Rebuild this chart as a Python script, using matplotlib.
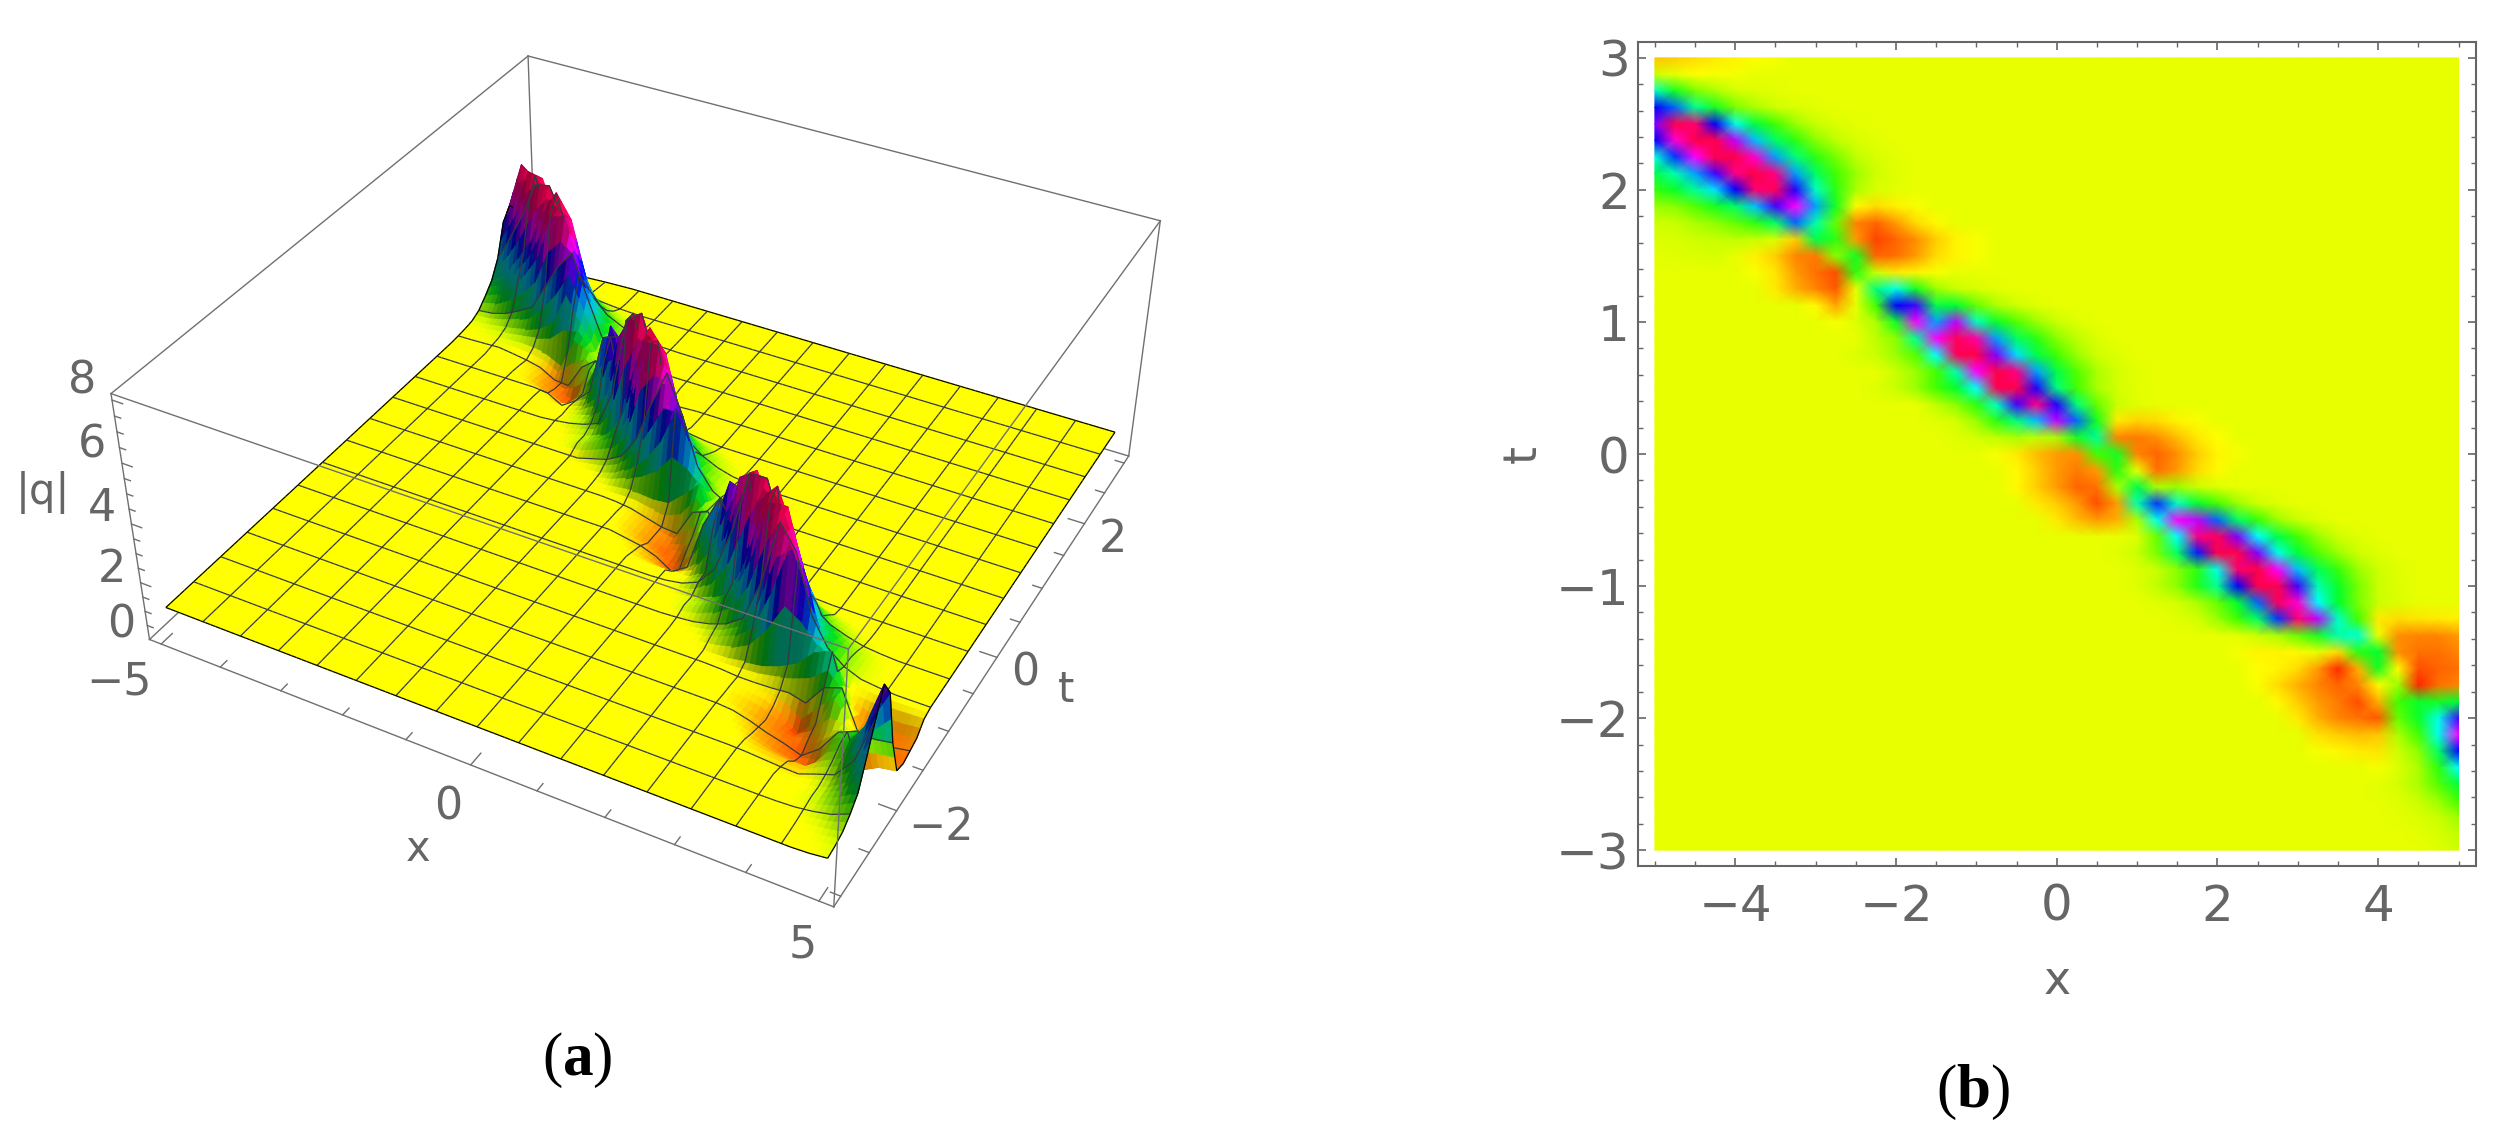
import numpy as np
import matplotlib
matplotlib.use("Agg")
import matplotlib.pyplot as plt
from matplotlib.colors import LinearSegmentedColormap, rgb_to_hsv, hsv_to_rgb, to_rgb
from matplotlib.ticker import MultipleLocator
from mpl_toolkits.mplot3d.art3d import Poly3DCollection

# ---------------- values ----------------
x_values = [-5 + 0.25 * i for i in range(41)]
t_values = [3 - 0.125 * i for i in range(49)]
background_q = 1.0
# first non-background column of every row (t = 3 ... -3), then the values read along that row
row_start = [0, 0, 0, 0, 0, 0, 0, 0, 0, 0, 0, 0,
             0, 5, 6, 8, 9, 11, 10, 12, 11, 14, 14, 15,
             17, 18, 18, 19, 20, 24, 23, 24, 24, 25, 26, 29,
             29, 30, 30, 31, 32, 33, 33, 36, 36, 36, 37, 38, 39]
row_values = [
    [.78, .8, .85, .9, .93, .96, .98],                                              # 3.000
    [1.1, 1.0, .96, .97, .98],                                                      # 2.875
    [2.4, 1.7, 1.35, 1.2, 1.08, 1.04, 1.02],                                        # 2.750
    [3.6, 3.2, 2.2, 1.7, 1.35, 1.2, 1.1, 1.05, 1.02],                               # 2.625
    [4.0, 5.6, 5.2, 3.6, 2.6, 1.85, 1.5, 1.25, 1.12, 1.05, 1.02],                   # 2.500
    [3.6, 4.6, 5.7, 5.6, 4.2, 2.9, 2.0, 1.6, 1.3, 1.15, 1.06, 1.02],                # 2.375
    [2.5, 3.4, 4.4, 5.6, 5.7, 4.6, 3.0, 2.1, 1.6, 1.35, 1.15, 1.06, 1.02],          # 2.250
    [1.9, 2.3, 3.0, 3.8, 5.0, 5.8, 5.0, 3.0, 2.0, 1.5, 1.25, 1.1, 1.03],            # 2.125
    [1.55, 1.75, 2.2, 2.8, 3.6, 5.2, 5.4, 3.7, 2.4, 1.6, 1.2, 1.06, 1.02],          # 2.000
    [1.25, 1.3, 1.45, 1.7, 2.0, 2.9, 3.8, 4.4, 3.0, 1.7, .95, .85, .92, .97],       # 1.875
    [1.1, 1.12, 1.2, 1.28, 1.4, 1.6, 2.0, 3.2, 2.3, 1.4, .5, .35, .6, .85, .95],    # 1.750
    [1.05, 1.06, 1.1, 1.12, 1.15, 1.12, 1.05, .8, 1.9, 1.6, .6, .2, .35, .55, .8, .93, .97],  # 1.625
    [1.02, 1.03, 1.05, 1.07, 1.0, .92, .8, .5, .45, 1.3, 1.7, .35, .4, .6, .85, .93, .97],    # 1.500
    [.97, .88, .6, .4, .25, 1.6, 1.1, .9, .93, .97],                                # 1.375
    [.9, .7, .5, .3, 1.0, 2.1, 2.6, 1.7, 1.25, 1.12, 1.06, 1.02],                   # 1.250
    [.95, .65, 1.0, 1.5, 3.6, 3.8, 1.9, 1.8, 1.4, 1.2, 1.1, 1.03],                  # 1.125
    [.98, 1.04, 1.2, 1.75, 4.4, 3.0, 4.2, 2.4, 1.75, 1.45, 1.25, 1.12, 1.04],       # 1.000
    [1.15, 1.3, 2.2, 4.4, 5.4, 4.8, 3.0, 2.0, 1.6, 1.3, 1.15, 1.05],                # 0.875
    [1.05, 1.12, 1.25, 1.45, 2.7, 5.4, 5.8, 4.0, 2.8, 1.9, 1.5, 1.25, 1.1, 1.04],   # 0.750
    [1.12, 1.25, 1.5, 2.3, 4.4, 5.7, 5.0, 3.0, 1.9, 1.45, 1.2, 1.08, 1.02],         # 0.625
    [1.04, 1.12, 1.25, 1.5, 1.8, 2.7, 5.5, 5.6, 3.7, 2.1, 1.5, 1.2, 1.08, 1.02],    # 0.500
    [1.15, 1.3, 1.6, 2.4, 3.8, 5.0, 3.7, 2.1, 1.4, 1.12, 1.03],                     # 0.375
    [1.03, 1.08, 1.25, 1.6, 2.1, 2.9, 4.2, 3.2, 1.7, .9, .82, .85, .93, .97],       # 0.250
    [1.03, 1.08, 1.15, 1.2, 1.15, 1.2, 1.7, 2.2, .5, .45, .55, .75, .9, .96],       # 0.125
    [.97, .9, .75, .6, .55, 1.5, 1.7, .5, .35, .55, .8, .93, .98],                  # 0.000
    [.95, .8, .6, .45, .6, 1.6, 1.0, .4, .6, .85, .95],                             # -0.125
    [.95, .8, .6, .35, .4, 1.2, 1.9, 1.2, 1.25, 1.12, 1.04],                        # -0.250
    [.9, .8, .6, .25, .6, 2.3, 3.4, 2.4, 1.8, 1.5, 1.25, 1.1, 1.03],                # -0.375
    [.9, .75, .6, .7, 1.2, 2.6, 4.4, 4.2, 3.2, 2.0, 1.55, 1.25, 1.12, 1.04],        # -0.500
    [1.04, 1.4, 2.7, 5.0, 5.4, 4.0, 2.7, 1.9, 1.5, 1.25, 1.1, 1.03],                # -0.625
    [1.03, 1.12, 1.35, 2.0, 3.5, 5.6, 5.6, 4.0, 2.6, 1.85, 1.45, 1.25, 1.1, 1.04],  # -0.750
    [1.04, 1.12, 1.3, 1.6, 2.6, 5.2, 5.8, 4.4, 2.9, 1.95, 1.55, 1.25, 1.1, 1.03],   # -0.875
    [1.04, 1.15, 1.3, 1.65, 2.2, 3.6, 5.6, 5.6, 3.8, 2.3, 1.75, 1.35, 1.12, 1.04],  # -1.000
    [1.03, 1.08, 1.2, 1.4, 1.8, 3.2, 5.4, 4.6, 2.7, 1.8, 1.35, 1.12, 1.05],         # -1.125
    [1.03, 1.08, 1.25, 1.5, 2.0, 3.4, 5.2, 4.2, 2.4, 1.5, .9, .85, .88, .9, .92],   # -1.250
    [1.02, 1.12, 1.2, 1.4, 1.7, 2.3, 2.5, 1.0, .55, .5, .5, .6],                    # -1.375
    [.98, .93, .93, .95, 1.0, .85, 1.6, 1.8, .55, .4, .4, .5],                      # -1.500
    [.96, .93, .85, .6, .1, .7, 1.7, .95, .25, .35, .4],                            # -1.625
    [.97, .85, .7, .5, .35, .5, .95, 1.25, .08, .4, .5],                            # -1.750
    [.95, .8, .6, .45, .25, .7, 1.5, 1.75, 1.7, 1.8],                               # -1.875
    [.9, .7, .5, .4, .3, 1.4, 1.75, 2.6, 3.8],                                      # -2.000
    [.87, .8, .75, .78, 1.2, 1.5, 2.6, 4.4],                                        # -2.125
    [.98, .94, .9, .88, 1.1, 1.3, 2.0, 3.6],                                        # -2.250
    [.98, 1.05, 1.2, 1.6, 2.7],                                                     # -2.375
    [1.02, 1.08, 1.2, 1.45, 1.85],                                                  # -2.500
    [1.01, 1.04, 1.12, 1.25, 1.5],                                                  # -2.625
    [1.02, 1.05, 1.12, 1.25],                                                       # -2.750
    [1.02, 1.06, 1.15],                                                             # -2.875
    [1.03, 1.1],                                                                    # -3.000
]

z_tick_labels = ["0", "2", "4", "6", "8"]
x3d_tick_labels = ["\u22125", "0", "5"]
t3d_tick_labels = ["\u22122", "0", "2"]
x2d_ticks = [-4, -2, 0, 2, 4]
t2d_ticks = [-3, -2, -1, 0, 1, 2, 3]
caption_letters = ["a", "b"]

# ---------------- layout and style ----------------
W, H = 2508, 1137
GREY = "#666666"
BOX = "#707070"
MESH = "#34383f"
CAMERA_ANCHORS = [
    ((-5.2, -3.12, 0), (148.5, 640)), ((-5.2, -3.12, 8.2), (111, 393.6)),
    ((5.2, -3.12, 0), (834, 908)), ((5.2, -3.12, 8.2), (847.5, 649)),
    ((5.2, 3.12, 0), (1129, 456)), ((5.2, 3.12, 8.2), (1161, 221)),
    ((-5.2, 3.12, 8.2), (528, 56)), ((-5, -3, 1), (167, 607)),
    ((5, -3, 1), (828, 860)), ((5, 3, 1), (1114, 432)),
]
Z_LABEL_POS = [(121, 625), (112, 570), (102, 508), (92, 445), (82, 381)]
X_LABEL_POS = [(119, 682), (448, 807), (803, 945)]
T_LABEL_POS = [(941, 828), (1025, 673), (1113, 539)]

plt.rcParams["font.family"] = ["DejaVu Sans"]
plt.rcParams["mathtext.fontset"] = "custom"
plt.rcParams["mathtext.rm"] = "Liberation Serif"
plt.rcParams["mathtext.bf"] = "Liberation Serif:bold"

xs = np.array(x_values)
ts = np.array(t_values)
Q = np.full((len(ts), len(xs)), background_q)
for r, (s, vals) in enumerate(zip(row_start, row_values)):
    Q[r, s:s + len(vals)] = vals

VMAX = 6.2
anchors_heat = [(0, "#ff1000"), (.12, "#ff3000"), (.4, "#ff7000"), (.7, "#ffb000"), (.85, "#ffdc00"), (.96, "#ffff00"),
                (1.0, "#e8ff00"), (1.12, "#c8ff00"), (1.5, "#40ff00"), (1.8, "#00ff30"), (2.3, "#00ffb0"), (2.7, "#00ffff"),
                (3.1, "#0080ff"), (3.6, "#0000ff"), (4.0, "#8000ff"), (4.4, "#ff00ff"), (4.9, "#ff0090"),
                (5.4, "#ff0058"), (6.2, "#ff0030")]
anchors_surf = [(0, "#e00000"), (.12, "#ff3000"), (.4, "#ff7000"), (.7, "#ffb000"), (.85, "#ffdc00"), (.96, "#ffff00"),
                (1.04, "#ffff00"), (1.2, "#c8ff00"), (1.5, "#60f000"), (1.8, "#00e020"), (2.3, "#00d8a0"), (2.7, "#00c8f0"),
                (3.1, "#0080ff"), (3.6, "#0000ff"), (4.0, "#8000ff"), (4.4, "#ff00ff"), (4.9, "#ff0090"),
                (5.4, "#ff0058"), (6.2, "#ff0030")]
def make_cmap(name, a):
    return LinearSegmentedColormap.from_list(name, [(v / VMAX, c) for v, c in a], N=1024)
cmap_heat = make_cmap("heat", anchors_heat)
cmap_surf = make_cmap("surf", anchors_surf)

fig = plt.figure(figsize=(W / 100, H / 100), dpi=100, facecolor="white")

# ---------------- panel (a) ----------------
ax3 = fig.add_axes([0, 0, 1, 1], projection="3d", computed_zorder=False)
ax3.set_axis_off()
ax3.patch.set_alpha(0)
ax3.apply_aspect = lambda position=None: None

rows = []
for (X, Y, Z), (u, v) in CAMERA_ANCHORS:
    p = [X, Y, Z, 1]
    rows.append(p + [0, 0, 0, 0] + [-u * c for c in p])
    rows.append([0, 0, 0, 0] + p + [-v * c for c in p])
sol = np.linalg.svd(np.array(rows, float))[2][-1].reshape(3, 4)
sol = sol / (sol[2] @ np.array([0, 0, 4, 1]))
cam_h = np.linalg.svd(sol)[2][-1]
camera = cam_h[:3] / cam_h[3]

vx0, vx1 = ax3.viewLim.x0, ax3.viewLim.x1
vy0, vy1 = ax3.viewLim.y0, ax3.viewLim.y1
T = np.array([[(vx1 - vx0) / W, 0, vx0], [0, -(vy1 - vy0) / H, vy1], [0, 0, 1]])
Pv = T @ sol
M = np.vstack([Pv[0], Pv[1], [0, 0, 0, -1], Pv[2]])
ax3.get_proj = lambda: M

# display-only smoothing of the colour between grid nodes (Gouraud-like facets)
RX, RT = 3, 2
xf = np.linspace(xs[0], xs[-1], (len(xs) - 1) * RX + 1)
tf = np.linspace(ts[0], ts[-1], (len(ts) - 1) * RT + 1)
Qx = np.array([np.interp(xf, xs, row) for row in Q])
Qf = np.array([np.interp(tf, ts[::-1], col[::-1]) for col in Qx.T]).T

dz_dt, dz_dx = np.gradient(Qf, tf, xf)
nx, nt = -dz_dx * 0.5, -dz_dt * 0.3
nn = np.sqrt(nx ** 2 + nt ** 2 + 1)
light = (nx * 0.42 + nt * 0.30 + 0.86) / nn
shade = np.clip(0.5 + 0.6 * (light / 0.86), 0.5, 1.0)
shade = 0.25 * (shade[:-1, :-1] + shade[1:, :-1] + shade[:-1, 1:] + shade[1:, 1:])
Qc = 0.25 * (Qf[:-1, :-1] + Qf[1:, :-1] + Qf[:-1, 1:] + Qf[1:, 1:])
rgb = cmap_surf(Qc / VMAX)[..., :3]
hsv = rgb_to_hsv(rgb)
hsv[..., 2] *= shade
rgb = hsv_to_rgb(hsv)

verts, faces, edges = [], [], []
for i in range(len(tf) - 1):
    for j in range(len(xf) - 1):
        verts.append([(xf[j], tf[i], Qf[i, j]), (xf[j + 1], tf[i], Qf[i, j + 1]),
                      (xf[j + 1], tf[i + 1], Qf[i + 1, j + 1]), (xf[j], tf[i + 1], Qf[i + 1, j])])
        faces.append(rgb[i, j])
        edges.append(rgb[i, j])

def toward_camera(p, a=0.012):
    p = np.asarray(p, float)
    return p + a * (camera - p)

def add_line(px, pt, pz, colour):
    pts = toward_camera(np.column_stack([px, pt, pz]))
    c = to_rgb(colour)
    for a, b in zip(pts[:-1], pts[1:]):
        verts.append([tuple(a), tuple(b)])
        faces.append(c)
        edges.append(c)

MESH_COUNT = 15
for k in range(1, MESH_COUNT + 1):
    xm = -5 + 10 * k / (MESH_COUNT + 1)
    zm = [np.interp(xm, xf, Qf[i]) for i in range(len(tf))]
    add_line(np.full(len(tf), xm), tf, zm, MESH)
    tm = -3 + 6 * k / (MESH_COUNT + 1)
    zt = [np.interp(tm, tf[::-1], Qf[::-1, j]) for j in range(len(xf))]
    add_line(xf, np.full(len(xf), tm), zt, MESH)
add_line(xf, np.full(len(xf), tf[0]), Qf[0], "black")
add_line(xf, np.full(len(xf), tf[-1]), Qf[-1], "black")
add_line(np.full(len(tf), xf[0]), tf, Qf[:, 0], "black")
add_line(np.full(len(tf), xf[-1]), tf, Qf[:, -1], "black")

surf = Poly3DCollection(verts, facecolors=faces, edgecolors=edges, linewidths=0.9, zsort="average", zorder=2)
ax3.add_collection3d(surf)

XL, XH, TL, TH, ZL, ZH = -5.2, 5.2, -3.12, 3.12, 0, 8.2
def seg(p, q, z):
    ax3.plot([p[0], q[0]], [p[1], q[1]], [p[2], q[2]], color=BOX, lw=1.0, zorder=z)
A, B, C, D = (XL, TL, ZL), (XL, TL, ZH), (XH, TL, ZL), (XH, TL, ZH)
E, F, G, H_ = (XH, TH, ZL), (XH, TH, ZH), (XL, TH, ZH), (XL, TH, ZL)
for p, q in [(G, B), (G, F), (G, H_), (A, H_), (H_, E)]:
    seg(p, q, 1)
for p, q in [(B, D), (D, F), (C, D), (F, E), (A, C), (C, E), (A, B)]:
    seg(p, q, 3)

for z in np.arange(0.5, 8.01, 0.5):
    L = 0.17 if z % 2 == 0 else 0.1
    seg((XL, TL, z), (XL + L, TL, z), 3)
for x in range(-5, 6):
    L = 0.15 if x % 5 == 0 else 0.09
    seg((x, TL, ZL), (x, TL + L, ZL), 3)
for t in np.arange(-3, 3.01, 0.5):
    L = 0.25 if t % 2 == 0 else 0.14
    seg((XH, t, ZL), (XH - L, t, ZL), 3)

def ftext(px, py, s, **kw):
    fig.text(px / W, 1 - py / H, s, ha="center", va="center", color=GREY, **kw)

for (px, py), s in zip(Z_LABEL_POS, z_tick_labels):
    ftext(px, py, s, fontsize=32)
for (px, py), s in zip(X_LABEL_POS, x3d_tick_labels):
    ftext(px, py, s, fontsize=32)
for (px, py), s in zip(T_LABEL_POS, t3d_tick_labels):
    ftext(px, py, s, fontsize=32)
ftext(418, 849, "x", fontsize=30)
ftext(1066, 690, "t", fontsize=30)
ftext(43, 493, "|q|", fontsize=30)

# ---------------- panel (b) ----------------
L2, R2, T2, B2 = 1638, 2475.5, 42, 866
ax2 = fig.add_axes([L2 / W, 1 - B2 / H, (R2 - L2) / W, (B2 - T2) / H], zorder=5)
ax2.pcolormesh(xs, ts, Q, shading="gouraud", cmap=cmap_heat, vmin=0, vmax=VMAX, rasterized=True)
ax2.set_xlim(-5.21, 5.21)
ax2.set_ylim(-3.12, 3.12)
ax2.set_xticks(x2d_ticks)
ax2.set_yticks(t2d_ticks)
ax2.xaxis.set_minor_locator(MultipleLocator(0.5))
ax2.yaxis.set_minor_locator(MultipleLocator(0.2))
ax2.tick_params(which="major", direction="in", top=True, right=True, length=6, width=1.2, color=GREY,
                labelcolor=GREY, labelsize=36)
ax2.tick_params(which="minor", direction="in", top=True, right=True, length=3.5, width=1.0, color=GREY)
ax2.tick_params(axis="x", which="major", pad=12)
ax2.tick_params(axis="y", which="major", pad=6)
for sp in ax2.spines.values():
    sp.set_color(GREY)
    sp.set_linewidth(1.5)
ftext(2057, 981, "x", fontsize=33)
ftext(1523, 454, "t", fontsize=33, rotation=90)

for (px, py), s in zip([(577, 1075), (1973, 1107)], caption_letters):
    fig.text(px / W, 1 - py / H, "($\\mathbf{" + s + "}$)", ha="center", va="baseline", color="black",
             fontsize=44, family="Liberation Serif")

fig.savefig("out.png", dpi=100)
